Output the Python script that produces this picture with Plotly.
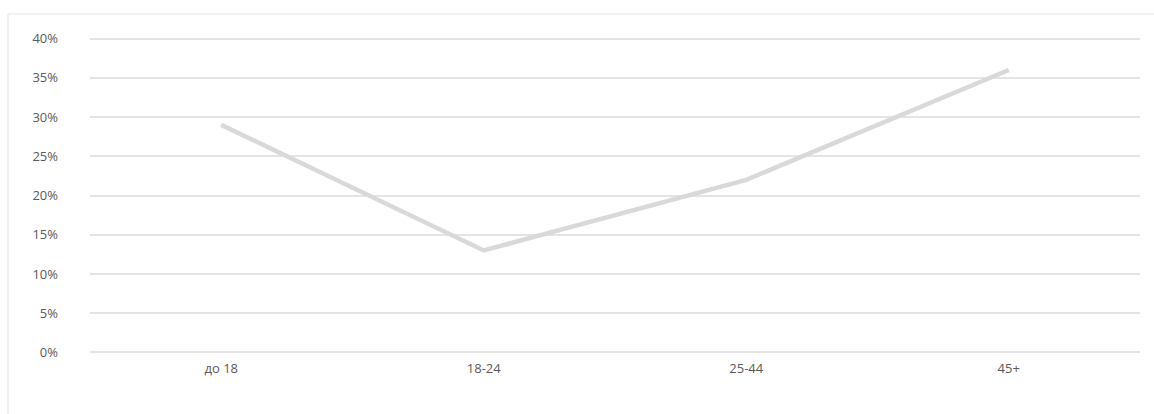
import plotly.graph_objects as go

# Age groups and their share
age_groups = ["до 18", "18-24", "25-44", "45+"]
shares = [29, 13, 22, 36]
y_ticks = [0, 5, 10, 15, 20, 25, 30, 35, 40]
y_tick_labels = [f"{v}%" for v in y_ticks]

W, H = 1154, 414
ML, MR, MT, MB = 90, 14, 37, 60
plot_w = W - ML - MR
plot_h = H - MT - MB

fig = go.Figure()
fig.add_trace(go.Scatter(
    x=age_groups,
    y=shares,
    mode="lines",
    line=dict(color="#d9d9d9", width=4.5),
    hoverinfo="skip",
))

# Light chart-area frame (left and top edges fall inside the page)
fig.add_shape(
    type="rect", xref="paper", yref="paper",
    x0=(8 - ML) / plot_w, x1=(W + 5 - ML) / plot_w,
    y0=-(MB + 10) / plot_h, y1=1 + (MT - 14) / plot_h,
    line=dict(color="#e6e6e6", width=1.2),
    fillcolor="rgba(0,0,0,0)", layer="below",
)

fig.update_layout(
    width=W, height=H,
    margin=dict(l=ML, r=MR, t=MT, b=MB),
    paper_bgcolor="white", plot_bgcolor="white",
    showlegend=False,
    font=dict(family="Open Sans, sans-serif", size=13, color="#595959"),
    xaxis=dict(
        type="category",
        range=[-0.5, 3.5],
        showgrid=False, zeroline=False, showline=False,
        ticks="", ticklabelstandoff=5,
        tickfont=dict(size=13, color="#595959"),
    ),
    yaxis=dict(
        range=[-0.2, 40.2],
        tickvals=y_ticks, ticktext=y_tick_labels,
        showgrid=True, gridcolor="#e4e4e4", gridwidth=1.5,
        zeroline=False, showline=False,
        ticks="", ticklabelstandoff=31,
        tickfont=dict(size=13, color="#595959"),
    ),
)

fig.write_html("out.html")
